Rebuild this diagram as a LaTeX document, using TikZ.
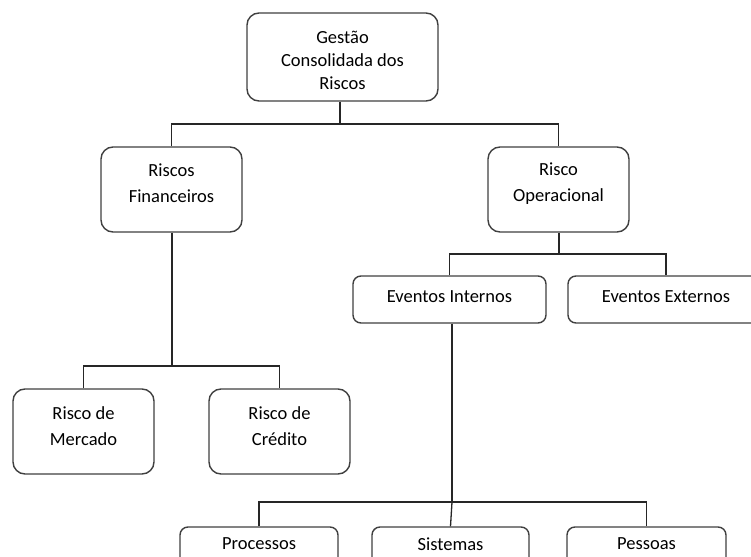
\documentclass[tikz,border=0pt]{standalone}
\usepackage{fontspec}
\setmainfont{Carlito}
\begin{document}
\begin{tikzpicture}[x=1pt,y=-1pt,
  box/.style={draw=black!75, line width=1.4pt, fill=white, rounded corners=12pt, inner sep=0pt},
  flat/.style={box, rounded corners=8pt},
  lbl/.style={align=center, inner sep=0pt, text=black, font=\fontsize{18.5}{26}\selectfont},
  link/.style={draw=black!85, line width=1.3pt}]
\useasboundingbox (0,0) rectangle (751,556);
\clip (0,0) rectangle (751,556);

% boxes
\node[box, minimum width=191pt, minimum height=88pt] (gcr) at (342.5,57) {};
\node[box, minimum width=141pt, minimum height=85pt] (rf) at (171.5,189.5) {};
\node[box, minimum width=141pt, minimum height=85pt] (ro) at (558.5,189.5) {};
\node[box, minimum width=141pt, minimum height=85pt] (rm) at (83.5,431.5) {};
\node[box, minimum width=141pt, minimum height=85pt] (rc) at (279.5,431.5) {};
\node[flat, minimum width=193pt, minimum height=47pt] (ei) at (449.5,299.5) {};
\node[flat, minimum width=196pt, minimum height=47pt] (ee) at (666,299.5) {};
\node[flat, minimum width=158pt, minimum height=47pt] (pr) at (259,550.5) {};
\node[flat, minimum width=157pt, minimum height=47pt] (si) at (450.5,550.5) {};
\node[flat, minimum width=159pt, minimum height=47pt] (pe) at (646.5,550.5) {};

% box texts
\node[lbl, font=\fontsize{18.5}{23}\selectfont] (gcr-t) at (342.5,60) {Gestão\\Consolidada dos\\Riscos};
\node[lbl] (rf-t) at (171.5,183) {Riscos\\Financeiros};
\node[lbl] (ro-t) at (558.5,184) {Risco\\Operacional};
\node[lbl] (rm-t) at (83.5,426) {Risco de\\Mercado};
\node[lbl] (rc-t) at (279.5,426) {Risco de\\Crédito};
\node[lbl] (ei-t) at (449.5,297) {Eventos Internos};
\node[lbl] (ee-t) at (666,297) {Eventos Externos};
\node[lbl] (pr-t) at (259,544) {Processos};
\node[lbl] (si-t) at (450.5,544) {Sistemas};
\node[lbl] (pe-t) at (646.5,544) {Pessoas};

% tree connectors
\coordinate (b1) at (340,124);
\coordinate (b2) at (172,366);
\coordinate (b3) at (559,254);
\coordinate (b4) at (452,502);
\draw[link] (b1 |- gcr.south) -- (b1);
\draw[link] (rf.north) |- (b1) -| (ro.north);
\draw[link] (b2 |- rf.south) -- (b2);
\draw[link] (rm.north) |- (b2) -| (rc.north);
\draw[link] (b3 |- ro.south) -- (b3);
\draw[link] (ei.north) |- (b3) -| (ee.north);
\draw[link] (b4 |- ei.south) -- (b4);
\draw[link] (pr.north) |- (b4) -| (pe.north);
\draw[link] (b4) -- (si.north);
\end{tikzpicture}
\end{document}
